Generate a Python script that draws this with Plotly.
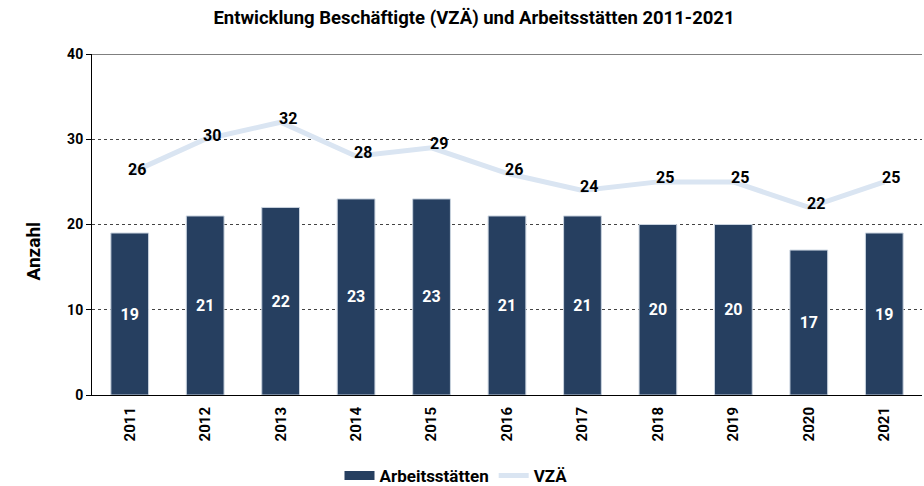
import plotly.graph_objects as go

years = ["2011", "2012", "2013", "2014", "2015", "2016", "2017", "2018", "2019", "2020", "2021"]
arbeitsstaetten = [19, 21, 22, 23, 23, 21, 21, 20, 20, 17, 19]
vza = [26, 30, 32, 28, 29, 26, 24, 25, 25, 22, 25]

font_family = "Roboto"
bar_color = "#263f60"
line_color = "#dae5f2"

fig = go.Figure()
fig.add_trace(go.Bar(
    x=years, y=arbeitsstaetten, name="Arbeitsstätten",
    marker=dict(color=bar_color, line=dict(color="#c9d3df", width=1)),
    width=0.5, showlegend=False,
    text=arbeitsstaetten, textposition="inside", insidetextanchor="middle",
    textfont=dict(color="white", size=16, family=font_family, weight="bold"),
    textangle=0,
))
fig.add_trace(go.Scatter(
    x=years, y=vza, name="VZÄ", mode="lines",
    line=dict(color=line_color, width=5), showlegend=False,
))
# line value labels (category index positions on the category axis)
for i, v in enumerate(vza):
    fig.add_annotation(x=i, y=v, xref="x", yref="y", text=str(v), showarrow=False,
                       xshift=7, yshift=4,
                       font=dict(color="black", size=16, family=font_family, weight="bold"))

# legend entries (no marks drawn)
fig.add_trace(go.Scatter(x=[years[0]], y=[None], mode="lines", name="Arbeitsstätten",
                         line=dict(color=bar_color, width=9)))
fig.add_trace(go.Scatter(x=[years[0]], y=[None], mode="lines", name="VZÄ",
                         line=dict(color=line_color, width=5)))

fig.add_shape(type="line", xref="paper", yref="y", x0=0, x1=1, y0=40, y1=40,
              line=dict(color="black", width=1))

fig.add_annotation(text="Anzahl", xref="paper", yref="paper", x=0, y=(395 - 251) / 341,
                   xshift=-72, textangle=-90, showarrow=False,
                   font=dict(size=19, family=font_family, color="black", weight="bold"))

fig.update_layout(
    width=924, height=486,
    margin=dict(l=92, r=2, t=54, b=91, autoexpand=False),
    paper_bgcolor="white", plot_bgcolor="white",
    title=dict(text="Entwicklung Beschäftigte (VZÄ) und Arbeitsstätten 2011-2021",
               x=474 / 924, xanchor="center", y=1 - 18 / 486, yanchor="middle",
               font=dict(size=18.5, family=font_family, color="black", weight="bold")),
    font=dict(family=font_family, color="black"),
    showlegend=True,
    legend=dict(orientation="h", x=(456 - 92) / 830, xanchor="center", y=-(476 - 395) / 341, yanchor="middle",
                font=dict(size=17, family=font_family, color="black", weight="bold"),
                traceorder="normal", itemwidth=30),
    bargap=0.5,
)
fig.update_xaxes(
    type="category", categoryorder="array", categoryarray=years,
    range=[-0.5, len(years) - 0.5],
    tickangle=-90, automargin=False, ticklabelstandoff=5,
    tickfont=dict(size=15, family=font_family, color="black", weight="bold"),
    showline=True, linecolor="black", linewidth=1,
    ticks="", showgrid=False,
)
fig.update_yaxes(
    range=[0, 40], dtick=10, automargin=False,
    tickfont=dict(size=14, family=font_family, color="black", weight="bold"),
    showline=True, linecolor="black", linewidth=1,
    ticks="outside", ticklen=5, tickcolor="black",
    showgrid=True, gridcolor="#444444", griddash="dot", gridwidth=1,
    zeroline=False,
)

fig.write_html("out.html", config={"displayModeBar": False},
               post_script="document.body.style.margin='0';document.body.style.overflow='hidden';")
